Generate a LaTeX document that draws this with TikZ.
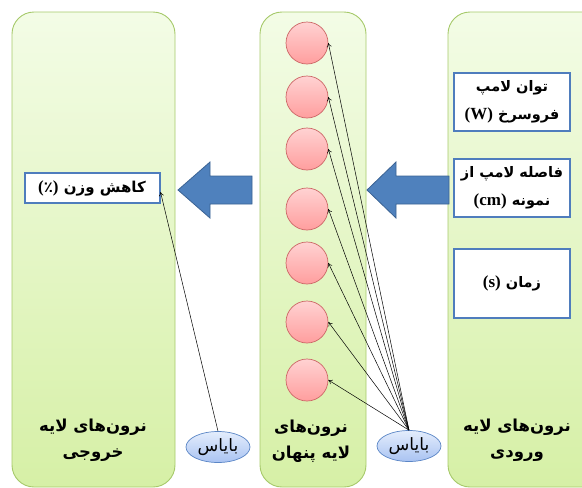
\documentclass[tikz,border=0pt]{standalone}
\usepackage{fontspec}
\TeXXeTstate=1
\newfontfamily\fa[Script=Arabic]{DejaVu Sans}
\newfontfamily\lat{Liberation Serif}
\usetikzlibrary{shapes.geometric,arrows.meta}
\definecolor{paneltop}{HTML}{F3FCE6}
\definecolor{panelbot}{HTML}{D6F0A6}
\definecolor{panelborder}{HTML}{A6C96A}
\definecolor{neurontop}{HTML}{FFD2D2}
\definecolor{neuronbot}{HTML}{FF9E9E}
\definecolor{neuronborder}{HTML}{CC6666}
\definecolor{biastop}{HTML}{E4EDFC}
\definecolor{biasbot}{HTML}{A9C3F2}
\definecolor{biasborder}{HTML}{5B86C6}
\definecolor{boxborder}{HTML}{4F7DBD}
\definecolor{arrowfill}{HTML}{4F81BD}
\definecolor{arrowborder}{HTML}{3A6293}
\newcommand\latb[1]{{\lat\bfseries\fontsize{17}{20}\selectfont#1}}
\begin{document}
\begin{tikzpicture}[x=1pt,y=-1pt,
  panel/.style={rounded corners=22pt, draw=panelborder, line width=0.9pt, top color=paneltop, bottom color=panelbot},
  neuron/.style={circle, minimum size=42pt, inner sep=0pt, draw=neuronborder, line width=0.7pt, top color=neurontop, bottom color=neuronbot},
  bias/.style={ellipse, minimum width=64pt, minimum height=31pt, inner sep=0pt, draw=biasborder, line width=0.7pt, top color=biastop, bottom color=biasbot, font=\fa\fontsize{17}{20}\selectfont},
  inbox/.style={draw=boxborder, line width=2pt, fill=white, minimum width=116pt, align=center, inner sep=1pt, font=\fa\bfseries\fontsize{14.5}{28}\selectfont},
  bigarrow/.style={draw=arrowborder, fill=arrowfill, line width=0.8pt, line join=miter},
  conn/.style={-{To[length=4pt,width=5pt]}, line width=0.5pt},
  lbl/.style={align=center, font=\fa\bfseries\fontsize{16.5}{26}\selectfont}
]
\useasboundingbox (0,0) rectangle (582,488);
\clip (0,0) rectangle (582,488);
% panels
\draw[panel] (12,12) rectangle (175,487);
\draw[panel] (260,12) rectangle (366,487);
\draw[panel] (448,12) rectangle (620,487);
% big arrows
\draw[bigarrow] (178,190) -- (210,162) -- (210,176) -- (252,176) -- (252,204) -- (210,204) -- (210,218) -- cycle;
\draw[bigarrow] (367,190) -- (396,162) -- (396,176) -- (449,176) -- (449,204) -- (396,204) -- (396,218) -- cycle;
% neurons
\foreach \i/\y in {1/43,2/97,3/149,4/209,5/263,6/322,7/380}
  \node[neuron] (c\i) at (307,\y) {};
% input boxes
\node[inbox, minimum height=58pt] (in1) at (512,102) {{\beginR توان لامپ\endR}\\{\beginR فروسرخ \beginL\latb{(W)}\endL\endR}};
\node[inbox, minimum height=58pt] (in2) at (512,188) {{\beginR فاصله لامپ از\endR}\\{\beginR نمونه \beginL\latb{(cm)}\endL\endR}};
\node[inbox, minimum height=69pt] (in3) at (512,283) {{\beginR زمان \beginL\latb{(s)}\endL\endR}};
% output box
\node[inbox, minimum width=135pt, minimum height=30pt, font=\fa\bfseries\fontsize{15}{20}\selectfont] (out) at (92,188) {{\beginR کاهش وزن \beginL\latb{(}٪\latb{)}\endL\endR}};
% biases
\node[bias] (bmid) at (409,446) {\beginR بایاس\endR};
\node[bias] (bleft) at (218,447) {\beginR بایاس\endR};
% connections
\foreach \i in {1,...,7}
  \draw[conn] (bmid.north) -- (c\i.east);
\draw[conn] (bleft.north) -- ([yshift=-4pt]out.east);
% labels
\node[lbl] (lout) at (93,440) {{\beginR نرون^^^^200cهای لایه\endR}\\{\beginR خروجی\endR}};
\node[lbl] (lhid) at (311,441) {{\beginR نرون^^^^200cهای\endR}\\{\beginR لایه پنهان\endR}};
\node[lbl] (lin) at (517,440) {{\beginR نرون^^^^200cهای لایه\endR}\\{\beginR ورودی\endR}};
\end{tikzpicture}
\end{document}
